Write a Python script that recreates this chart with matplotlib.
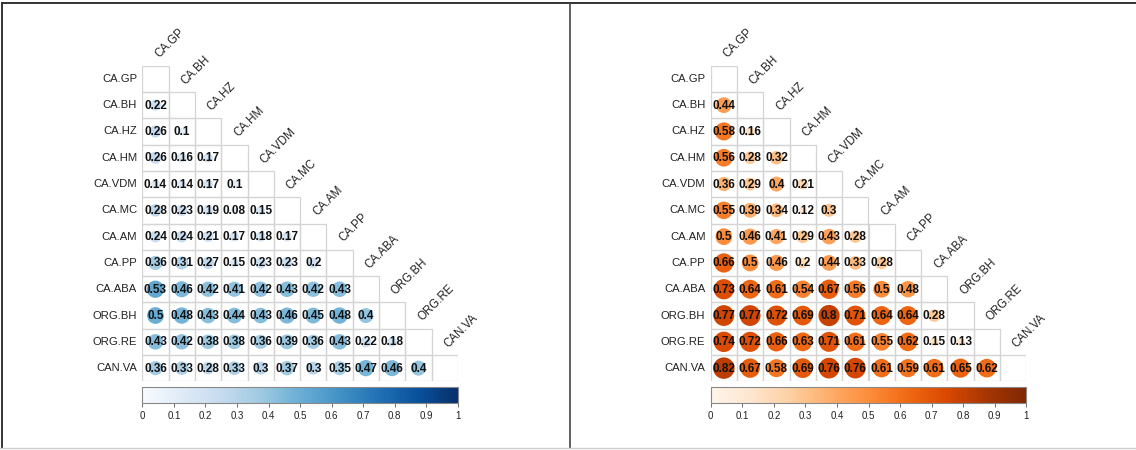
import matplotlib.pyplot as plt
import numpy as np
from matplotlib.patches import Circle, Rectangle
from matplotlib.lines import Line2D
from matplotlib.cm import ScalarMappable
from matplotlib.colors import Normalize

plt.rcParams['font.family'] = ['Liberation Sans', 'DejaVu Sans']

# variable names (rows top to bottom, columns left to right)
names = ['CA.GP', 'CA.BH', 'CA.HZ', 'CA.HM', 'CA.VDM', 'CA.MC',
         'CA.AM', 'CA.PP', 'CA.ABA', 'ORG.BH', 'ORG.RE', 'CAN.VA']

# lower triangle of the left correlation matrix, one list per row
left_rows = [
    [],
    [0.22],
    [0.26, 0.1],
    [0.26, 0.16, 0.17],
    [0.14, 0.14, 0.17, 0.1],
    [0.28, 0.23, 0.19, 0.08, 0.15],
    [0.24, 0.24, 0.21, 0.17, 0.18, 0.17],
    [0.36, 0.31, 0.27, 0.15, 0.23, 0.23, 0.2],
    [0.53, 0.46, 0.42, 0.41, 0.42, 0.43, 0.42, 0.43],
    [0.5, 0.48, 0.43, 0.44, 0.43, 0.46, 0.45, 0.48, 0.4],
    [0.43, 0.42, 0.38, 0.38, 0.36, 0.39, 0.36, 0.43, 0.22, 0.18],
    [0.36, 0.33, 0.28, 0.33, 0.3, 0.37, 0.3, 0.35, 0.47, 0.46, 0.4],
]

# lower triangle of the right correlation matrix
right_rows = [
    [],
    [0.44],
    [0.58, 0.16],
    [0.56, 0.28, 0.32],
    [0.36, 0.29, 0.4, 0.21],
    [0.55, 0.39, 0.34, 0.12, 0.3],
    [0.5, 0.46, 0.41, 0.29, 0.43, 0.28],
    [0.66, 0.5, 0.46, 0.2, 0.44, 0.33, 0.28],
    [0.73, 0.64, 0.61, 0.54, 0.67, 0.56, 0.5, 0.48],
    [0.77, 0.77, 0.72, 0.69, 0.8, 0.71, 0.64, 0.64, 0.28],
    [0.74, 0.72, 0.66, 0.63, 0.71, 0.61, 0.55, 0.62, 0.15, 0.13],
    [0.82, 0.67, 0.58, 0.69, 0.76, 0.76, 0.61, 0.59, 0.61, 0.65, 0.62],
]

cbar_ticks = [0, 0.1, 0.2, 0.3, 0.4, 0.5, 0.6, 0.7, 0.8, 0.9, 1]
cbar_labels = ['0', '0.1', '0.2', '0.3', '0.4', '0.5', '0.6', '0.7', '0.8', '0.9', '1']

W, H = 1136, 450
fig = plt.figure(figsize=(W / 100, H / 100), dpi=100)


def px_axes(x0, y0, w, h):
    # axes placed by pixel box, y0 measured from the top
    return fig.add_axes([x0 / W, (H - y0 - h) / H, w / W, h / H])


def corr_panel(x0, rows, cmap):
    n = len(names)
    cell = 26.3
    ax = px_axes(x0, 65.7, cell * n, cell * n)
    ax.set_xlim(0, n)
    ax.set_ylim(n, 0)
    ax.axis('off')
    norm = Normalize(0, 1)
    cm = plt.get_cmap(cmap)
    for i in range(n):
        for j in range(i + 1):
            ax.add_patch(Rectangle((j, i), 1, 1, fill=False, ec='#d4d4d4', lw=0.9))
        for j, r in enumerate(rows[i]):
            ax.add_patch(Circle((j + 0.5, i + 0.5), 0.45 * np.sqrt(abs(r)),
                                color=cm(norm(r)), lw=0))
            ax.text(j + 0.5, i + 0.52, f'{r:g}', ha='center', va='center',
                    fontsize=8.5, fontweight='bold', color='#111111')
        ax.text(-0.2, i + 0.5, names[i], ha='right', va='center', fontsize=8.1,
                color='#222222', clip_on=False)
        ax.text(i + 0.72, i - 0.2, names[i], ha='left', va='bottom', fontsize=8.3,
                rotation=45, rotation_mode='anchor', color='#222222', clip_on=False)

    cax = px_axes(x0, 386.7, cell * n, 16)
    cb = fig.colorbar(ScalarMappable(norm=norm, cmap=cm), cax=cax,
                      orientation='horizontal', ticks=cbar_ticks)
    cb.ax.set_xticklabels(cbar_labels)
    cb.ax.tick_params(labelsize=7, length=3, width=0.6, color='#555555',
                      labelcolor='#222222', pad=3)
    cb.outline.set_edgecolor('#888888')
    cb.outline.set_linewidth(0.8)


corr_panel(142.3, left_rows, 'Blues')
corr_panel(710.7, right_rows, 'Oranges')

# surrounding frame lines
fig.add_artist(Line2D([2 / W, 1], [1 - 3 / H, 1 - 3 / H], color='#333333', lw=1.4))
fig.add_artist(Line2D([2 / W, 2 / W], [1 - 3 / H, 2 / H], color='#333333', lw=1.4))
fig.add_artist(Line2D([570 / W, 570 / W], [1 - 3 / H, 2 / H], color='#444444', lw=1.2))
fig.add_artist(Line2D([0, 1], [2 / H, 2 / H], color='#cccccc', lw=1.0))

fig.savefig('out.png', dpi=100)
